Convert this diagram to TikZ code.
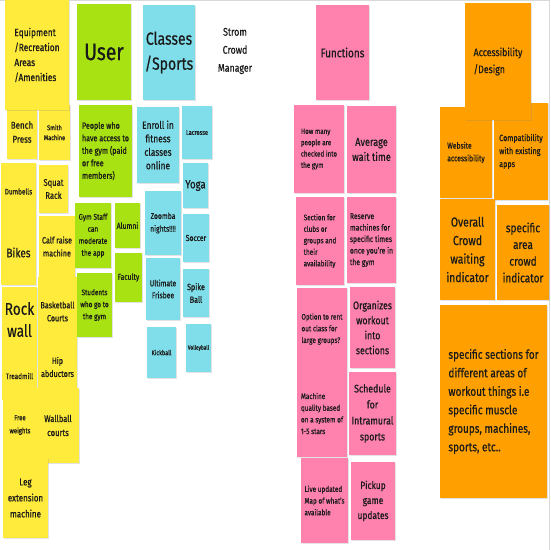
\documentclass[tikz,border=0pt]{standalone}
\usepackage{fontspec}
\setmainfont[FakeStretch=0.8,FakeBold=0.6]{Fira Sans}
\usetikzlibrary{shadows}
\definecolor{stY}{HTML}{FFEB3B}
\definecolor{stG}{HTML}{A8E212}
\definecolor{stB}{HTML}{80DEEA}
\definecolor{stP}{HTML}{FF82AE}
\definecolor{stO}{HTML}{FFA000}
\definecolor{ink}{HTML}{1A1A1A}
\newcommand\fz[2]{\fontsize{#1}{#2}\selectfont}
\newcommand\sn[9]{\node[#1,minimum width={(#5-#3)*1pt},minimum height={(#6-#4)*1pt},font=\fz{#7}{#8}] (#2) at ({(#3+#5)/2},{(#4+#6)/2}) {#9};}
\begin{document}
\begin{tikzpicture}[x=1pt,y=-1pt,
  note/.style={inner sep=1pt,align=center,text=ink,
    drop shadow={shadow xshift=0.8pt,shadow yshift=-1.4pt,opacity=0.22}},
  ny/.style={note,fill=stY},
  ng/.style={note,fill=stG},
  nb/.style={note,fill=stB},
  np/.style={note,fill=stP},
  no/.style={note,fill=stO},
  lft/.style={align=left}]
\useasboundingbox (0,0) rectangle (550,550);
\fill[white] (0,0) rectangle (550,550);
\draw[black!15] (0,0.5) -- (550,0.5);
\draw[black!15] (549.5,0) -- (549.5,550);
% yellow
\sn{ny}{bench}{7}{105}{37}{159}{10}{14}{Bench\\Press}
\sn{ny}{smith}{39}{105}{70}{160}{7}{10}{Smith\\Machine}
\sn{ny,lft}{equip}{5}{0}{69}{110}{10.5}{15}{Equipment\\/Recreation\\Areas\\/Amenities}
\sn{ny}{dumb}{1}{163}{36}{220}{8}{10}{Dumbells}
\sn{ny}{squat}{39}{165}{68}{213}{9.5}{13}{Squat\\Rack}
\sn{ny}{bikes}{1}{220}{36}{285}{12.5}{15}{Bikes}
\sn{ny}{calf}{39}{216}{75}{277}{9}{13}{Calf raise\\machine}
\sn{ny}{bball}{38}{277}{77}{346}{9}{13}{Basketball\\Courts}
\sn{ny}{rock}{2}{287}{37}{352}{17}{22}{Rock\\wall}
\sn{ny}{tread}{2}{352}{37}{400}{8}{10}{Treadmill}
\sn{ny}{hip}{38}{346}{77}{388}{9}{13}{Hip\\abductors}
\sn{ny}{free}{3}{390}{37}{460}{7.5}{13}{Free\\weights}
\sn{ny}{wall}{37}{388}{79}{463}{9.5}{14}{Wallball\\courts}
\sn{ny}{leg}{3}{458}{48}{538}{10}{16}{Leg\\extension\\machine}
% green
\sn{ng}{user}{77}{4}{131}{100}{24}{28}{User}
\sn{ng,lft}{people}{79}{105}{132}{197}{9}{12.5}{People who\\have access to\\the gym (paid\\or free\\members)}
\sn{ng}{staff}{75}{203}{111}{268}{8.2}{12}{Gym Staff\\can\\moderate\\the app}
\sn{ng}{alumni}{115}{203}{140}{248}{8.5}{12}{Alumni}
\sn{ng}{faculty}{115}{253}{142}{302}{8.5}{12}{Faculty}
\sn{ng}{students}{77}{273}{112}{337}{8}{12}{Students\\who go to\\the gym}
% blue
\sn{nb}{classes}{143}{5}{195}{100}{17.5}{25}{Classes\\/Sports}
\sn{nb}{enroll}{137}{107}{179}{183}{10.5}{13.5}{Enroll in\\fitness\\classes\\online}
\sn{nb}{lacrosse}{182}{106}{212}{159}{7}{10}{Lacrosse}
\sn{nb}{yoga}{183}{163}{208}{208}{12}{14}{Yoga}
\sn{nb}{zoomba}{145}{191}{181}{255}{8.5}{12.7}{Zoomba\\nights!!!!}
\sn{nb}{soccer}{183}{214}{209}{262}{8.6}{12}{Soccer}
\sn{nb}{ultimate}{146}{258}{180}{320}{8.5}{12}{Ultimate\\Frisbee}
\sn{nb}{spike}{183}{269}{209}{317}{9}{12.7}{Spike\\Ball}
\sn{nb}{kick}{147}{327}{176}{378}{7}{10}{Kickball}
\sn{nb}{volley}{186}{324}{211}{372}{6}{10}{Volleyball}
% title
\node[align=center,text=ink,font=\fz{11}{18}] (strom) at (235,51) {Strom\\Crowd\\Manager};
% pink
\sn{np}{functions}{316}{5}{369}{100}{12.5}{15}{Functions}
\sn{np,lft}{howmany}{294}{105}{344}{193}{7.8}{11.3}{How many\\people are\\checked into\\the gym}
\sn{np}{avg}{347}{106}{396}{193}{11.5}{15}{Average\\wait time}
\sn{np,lft}{section}{296}{197}{344}{285}{8}{11.5}{Section for\\clubs or\\groups and\\their\\availability}
\sn{np,lft}{reserve}{347}{197}{396}{283}{8.5}{11.5}{Reserve\\machines for\\specific times\\once you're in\\the gym}
\sn{np,lft}{rent}{297}{288}{347}{370}{8}{11.7}{Option to rent\\out class for\\large groups?}
\sn{np}{organize}{350}{287}{395}{368}{11}{15}{Organizes\\workout\\into\\sections}
\sn{np,lft}{quality}{297}{370}{347}{457}{8}{11.7}{Machine\\quality based\\on a system of\\1-5 stars}
\sn{np}{schedule}{349}{372}{396}{455}{11}{16}{Schedule\\for\\Intramural\\sports}
\sn{np,lft}{live}{301}{458}{348}{543}{8}{11.7}{Live updated\\Map of what's\\available}
\sn{np}{pickup}{351}{462}{395}{540}{10.5}{15}{Pickup\\game\\updates}
% orange
\sn{no,lft}{website}{440}{107}{492}{198}{8.5}{12.7}{Website\\accessibility}
\sn{no,lft}{compat}{494}{103}{548}{200}{9}{13}{Compatibility\\with existing\\apps}
\sn{no,lft}{access}{465}{3}{531}{120}{11}{17}{Accessibility\\/Design}
\sn{no}{overall}{440}{199}{495}{300}{13}{18.5}{Overall\\Crowd\\waiting\\indicator}
\sn{no}{specarea}{497}{205}{549}{300}{12.5}{16.7}{specific\\area\\crowd\\indicator}
\sn{no,lft}{specsec}{440}{305}{547}{498}{12.5}{18.5}{specific sections for\\different areas of\\workout things i.e\\specific muscle\\groups, machines,\\sports, etc..}
\end{tikzpicture}
\end{document}
